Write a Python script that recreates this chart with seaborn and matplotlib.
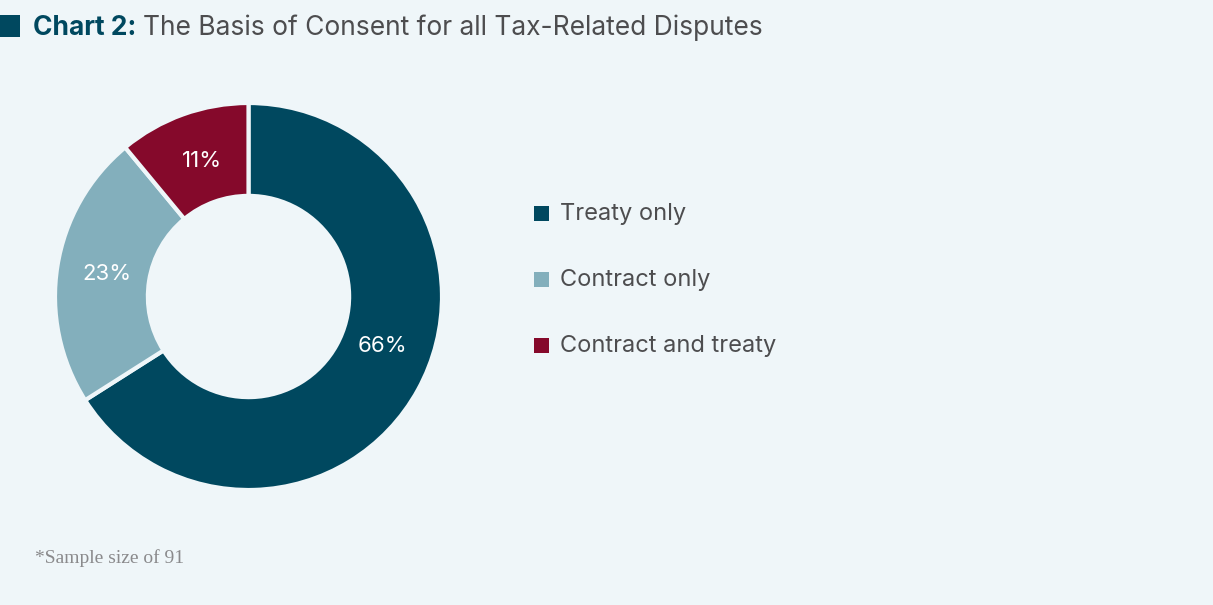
import matplotlib
matplotlib.use("Agg")
import numpy as np
import matplotlib.pyplot as plt
from matplotlib.patches import Rectangle
import seaborn as sns

# Data
categories = ["Treaty only", "Contract only", "Contract and treaty"]
shares = [66, 23, 11]
colors = ["#00485f", "#83afbc", "#85092b"]
# small angular nudge (degrees) for each percentage label
label_nudge = [8.5, 0, -1]

BG = "#eff6f9"
TEXT = "#4d4d4f"

sns.set_theme(style="white")
plt.rcParams["font.family"] = ["Inter", "DejaVu Sans"]

fig = plt.figure(figsize=(12.13, 6.05), dpi=100, facecolor=BG)
W, H = 1213, 605

# Title marker square
fig.patches.append(Rectangle((0, 1 - 37 / H), 20 / W, 22 / H, transform=fig.transFigure,
                             facecolor="#00485f", edgecolor="none"))

t1 = fig.text(33 / W, 1 - 28 / H, "Chart 2:", fontsize=19, fontweight="bold",
              color="#00485f", va="center", ha="left")
fig.canvas.draw()
bb = t1.get_window_extent()
fig.text((bb.x1 + 7) / W, 1 - 28 / H, "The Basis of Consent for all Tax-Related Disputes",
         fontsize=19, color=TEXT, va="center", ha="left")

# Donut
R = 1.0
ax = fig.add_axes([55 / W, 1 - 490 / H, 387 / W, 387 / H])
ax.set_facecolor(BG)
wedges, _ = ax.pie(
    shares, colors=colors, startangle=90, counterclock=False, radius=R,
    wedgeprops=dict(width=0.48, edgecolor=BG, linewidth=3),
)
# percentage labels at ring mid-radius
for w, val, nudge in zip(wedges, shares, label_nudge):
    ang = np.deg2rad((w.theta1 + w.theta2) / 2 + nudge)
    r = 0.74
    ax.text(r * np.cos(ang), r * np.sin(ang), f"{val}%", color="white",
            fontsize=16, ha="center", va="center")
ax.set_xlim(-1, 1)
ax.set_ylim(-1, 1)
ax.set_aspect("equal")
ax.axis("off")

# Legend
rows_y = [214, 280, 346]
for cat, col, y in zip(categories, colors, rows_y):
    fig.patches.append(Rectangle((534 / W, 1 - (y + 7) / H), 15 / W, 15 / H,
                                 transform=fig.transFigure, facecolor=col, edgecolor="none"))
    fig.text(560 / W, 1 - y / H, cat, fontsize=17, color=TEXT, va="center", ha="left")

# Footnote
fig.text(35 / W, 1 - 558 / H, "*Sample size of 91", fontsize=14, color="#8a8a8c",
         family="Liberation Serif", va="center", ha="left")

fig.savefig("out.png", dpi=100, facecolor=BG)
